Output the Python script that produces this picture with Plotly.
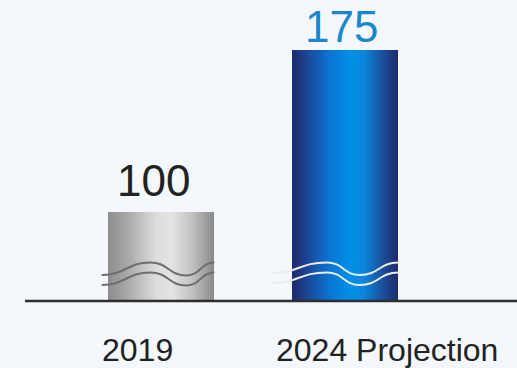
import plotly.graph_objects as go

# ---- data -------------------------------------------------------------
categories = ["2019", "2024 Projection"]
values = [100, 175]
value_colors = ["#222222", "#1a87cc"]

# ---- figure geometry ---------------------------------------------------
W, H = 517, 368
PLOT_BOTTOM_PX = 301          # baseline (axis break) pixel row
Y_MIN, Y_MAX = 58.8, 198.15   # visible value window (broken axis)
X_MIN, X_MAX = -0.875, 1.935
BAR_W = 0.58
PX_PER_UNIT_Y = PLOT_BOTTOM_PX / (Y_MAX - Y_MIN)

BG = "#f4f8fc"

# horizontal gradient stops for each bar (position, colour)
gradients = [
    [(0.0, "#8c8c8c"), (0.2, "#ababab"), (0.45, "#dcdcdc"), (0.6, "#e4e4e4"),
     (0.78, "#c4c4c4"), (1.0, "#8a8a8a")],
    [(0.0, "#1c2a6c"), (0.12, "#1f3f8c"), (0.35, "#0a74d2"), (0.55, "#0090e8"),
     (0.68, "#0a86da"), (0.85, "#1a4f9e"), (1.0, "#1c2a6a")],
]


def hex_to_rgb(h):
    h = h.lstrip("#")
    return tuple(int(h[i:i + 2], 16) for i in (0, 2, 4))


def sample(stops, t):
    for (p0, c0), (p1, c1) in zip(stops, stops[1:]):
        if p0 <= t <= p1:
            f = (t - p0) / (p1 - p0) if p1 > p0 else 0
            a, b = hex_to_rgb(c0), hex_to_rgb(c1)
            r = [round(a[k] + (b[k] - a[k]) * f) for k in range(3)]
            return "rgb({},{},{})".format(*r)
    return stops[-1][1]


fig = go.Figure()

# each bar is painted as thin vertical slices to get a cylinder-like shading
N = 70
for i, (cat, val) in enumerate(zip(categories, values)):
    step = BAR_W / N
    offsets = [-BAR_W / 2 + k * step for k in range(N)]
    widths = [step * 1.6 if k < N - 1 else step for k in range(N)]
    colors = [sample(gradients[i], (k + 0.5) / N) for k in range(N)]
    fig.add_trace(go.Bar(
        x=[i] * N, y=[val] * N, offset=offsets, width=widths,
        marker=dict(color=colors, line=dict(width=0)),
        hoverinfo="skip", showlegend=False,
    ))


def py(px_row):
    """pixel row -> y data value"""
    return Y_MIN + (PLOT_BOTTOM_PX - px_row) / PX_PER_UNIT_Y


def wave_path(center, pts):
    """smooth wave through (x offset in bar widths, pixel row) anchors"""
    xy = [(center + u * BAR_W, py(r)) for u, r in pts]
    d = "M {:.4f},{:.4f}".format(*xy[0])
    for (x0, y0), (x1, y1) in zip(xy, xy[1:]):
        dx = (x1 - x0) / 2
        d += " C {:.4f},{:.4f} {:.4f},{:.4f} {:.4f},{:.4f}".format(
            x0 + dx, y0, x1 - dx, y1, x1, y1)
    return d


# axis-break wave marks
breaks = [
    (0, "#6e6e6e", [(-0.556, 275), (-0.10, 262.5), (0.24, 275.5), (0.5, 262.5)]),
    (1, "#ebebeb", [(-0.69, 273), (-0.17, 262.5), (0.14, 275), (0.5, 262.5)]),
]
for center, col, pts in breaks:
    for dy in (0, 10):
        fig.add_shape(type="path", xref="x", yref="y",
                      path=wave_path(center, [(u, r + dy) for u, r in pts]),
                      line=dict(color=col, width=2))

# baseline (paper-referenced so it is not clipped at the plot edge)
fig.add_shape(type="line", xref="paper", yref="paper",
              x0=25 / W, x1=1, y0=0, y1=0,
              line=dict(color="#2e2e2e", width=2.5))

# value labels
value_xshift = [-7, -3]
value_yshift = [5, -3]
for i, (val, col) in enumerate(zip(values, value_colors)):
    fig.add_annotation(x=i, y=val, xref="x", yref="y", text=str(val),
                       showarrow=False, yanchor="bottom",
                       xshift=value_xshift[i], yshift=value_yshift[i],
                       font=dict(size=44, color=col,
                                 family="Liberation Sans, Arial, sans-serif"))

# category labels
label_x = [-0.128, 1.231]
for cat, lx in zip(categories, label_x):
    fig.add_annotation(x=lx, y=-(350 - PLOT_BOTTOM_PX) / PLOT_BOTTOM_PX,
                       xref="x", yref="paper", text=cat, showarrow=False,
                       yanchor="middle",
                       font=dict(size=32, color="#222222",
                                 family="Liberation Sans, Arial, sans-serif"))

fig.update_layout(
    width=W, height=H,
    margin=dict(l=0, r=0, t=0, b=H - PLOT_BOTTOM_PX, pad=0),
    paper_bgcolor=BG, plot_bgcolor=BG,
    barmode="overlay", bargap=0,
    xaxis=dict(range=[X_MIN, X_MAX], visible=False, fixedrange=True),
    yaxis=dict(range=[Y_MIN, Y_MAX], visible=False, fixedrange=True),
    showlegend=False,
)

fig.write_html("out.html", config={"displayModeBar": False})
